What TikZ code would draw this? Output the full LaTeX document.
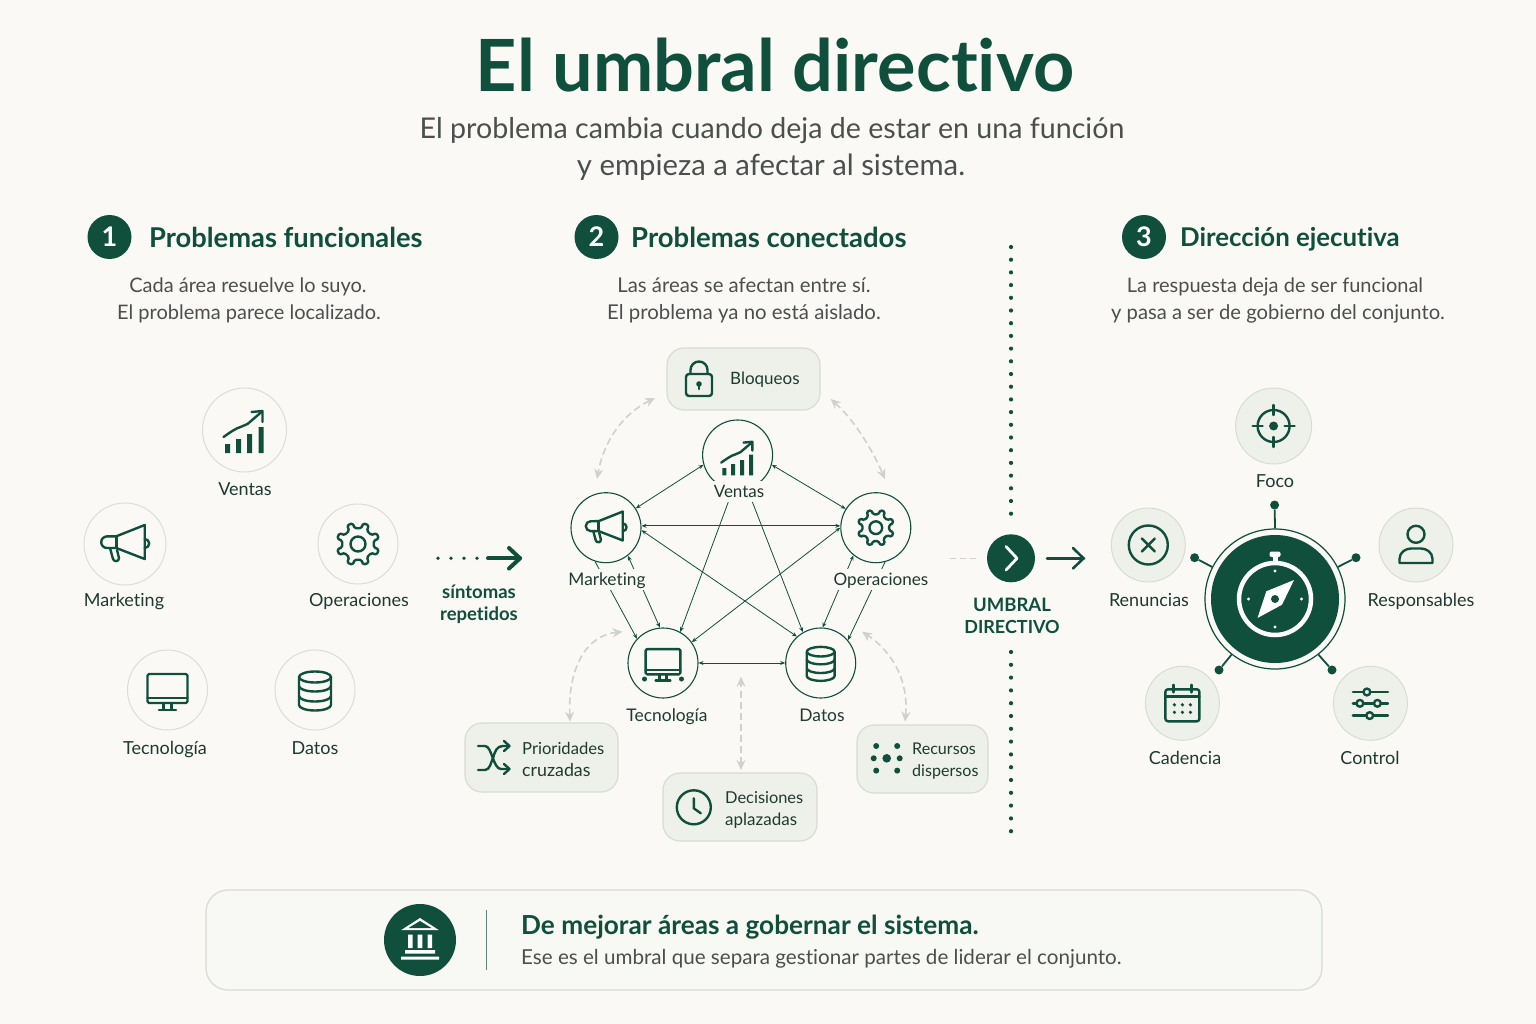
\documentclass[tikz,border=0pt]{standalone}
\usepackage{fontspec}
\setmainfont{Lato}[Ligatures=NoCommon]
\usetikzlibrary{arrows.meta}
\definecolor{gr}{HTML}{0F4F3C}
\definecolor{lab}{HTML}{1E3A31}
\definecolor{sub}{HTML}{4B504D}
\definecolor{bgc}{HTML}{FAF9F6}
\definecolor{cardf}{HTML}{EEF0EA}
\definecolor{cardb}{HTML}{D8DCD4}
\definecolor{ringc}{HTML}{DDDCD6}
\definecolor{dashc}{HTML}{CFD2CC}
\definecolor{botf}{HTML}{F8F8F4}
\newcommand{\fs}[1]{\fontsize{#1}{#1}\selectfont}
\tikzset{
 ico/.style={draw=gr,line width=2.4pt,line cap=round,line join=round},
 pics/ventas/.style={code={
  \fill[gr] (-19.5,14) rectangle (-14.5,23) (-8.5,9) rectangle (-3.5,23) (2.5,4) rectangle (7.5,23) (14,-3) rectangle (19,23);
  \draw[ico] (-21,7) .. controls (-14,2) and (-8,-2) .. (-4,-3) -- (3,-6) -- (17,-18);
  \draw[ico] (7,-18) -- (18,-19) -- (18,-8);}},
 pics/mega/.style={code={
  \draw[ico] (-8.7,-7.7) -- (19.7,-19) -- (19.7,15) -- (-8.7,4) -- (-18,4) arc[start angle=90,end angle=270,radius=5.8] -- cycle;
  \draw[ico] (-8.7,-7.7) -- (-8.7,4);
  \draw[ico] (-15,4) -- (-12,15) .. controls (-11,18) and (-6,18) .. (-6,14) -- (-8,6);
  \draw[ico] (19.7,-5) arc[start angle=-90,end angle=90,radius=4.5];}},
 pics/gear/.style={code={
  \draw[ico,rounded corners=1.4pt] (11:16)
   \foreach \a in {0,45,...,315}{ -- (\a+11:16) -- (\a+15:21.5) -- (\a+30:21.5) -- (\a+34:16)} -- cycle;
  \draw[ico] (0,0) circle (7.5);}},
 pics/monitor/.style={code={
  \draw[ico,rounded corners=1.5pt] (-20,-16) rectangle (20,13);
  \draw[ico] (-20,8) -- (20,8) (-4,13) -- (-4,19) (4,13) -- (4,19) (-8.5,20) -- (8.5,20);}},
 pics/datos/.style={code={
  \draw[ico] (-16,-13) arc[start angle=180,end angle=-180,x radius=16,y radius=5.5];
  \draw[ico] (-16,-13) -- (-16,15) arc[start angle=180,end angle=0,x radius=16,y radius=5.5] -- (16,-13);
  \draw[ico] (-16,-4) arc[start angle=180,end angle=0,x radius=16,y radius=5.5];
  \draw[ico] (-16,6) arc[start angle=180,end angle=0,x radius=16,y radius=5.5];}},
 pics/lock/.style={code={
  \draw[ico,rounded corners=3pt] (-13,-5) rectangle (13,17);
  \draw[ico] (-8.5,-5) -- (-8.5,-9) arc[start angle=180,end angle=360,radius=8.5] -- (8.5,-5);
  \fill[gr] (0,5) circle (2.8);
  \draw[ico] (0,5) -- (0,10);}},
 pics/shuffle/.style={code={
  \draw[ico] (-16,-12) -- (-9,-12) .. controls (-2,-12) and (-1,11) .. (7,11) -- (15,11);
  \draw[ico] (-16,12) -- (-9,12) .. controls (-4,12) and (-3,4) .. (-1,0) .. controls (1,-7) and (3,-12) .. (9,-12) -- (15,-12);
  \draw[ico] (10,-17) -- (15.5,-12) -- (10,-7) (10,6) -- (15.5,11) -- (10,16);}},
 pics/clock/.style={code={
  \draw[ico] (0,0) circle (17);
  \draw[ico] (0,-9) -- (0,1) -- (7,6);}},
 pics/dispersos/.style={code={
  \fill[gr] (0,0) circle (4.3);
  \foreach \p in {(-10.5,-12.3),(10.5,-12.3),(-13,0),(13,0),(-10.5,12.3),(10.5,12.3)}{\fill[gr] \p circle (3);}}},
 pics/target/.style={code={
  \draw[ico] (0,0) circle (16);
  \fill[gr] (0,0) circle (4.5);
  \draw[ico] (0,-21) -- (0,-11) (0,21) -- (0,11) (-21,0) -- (-11,0) (21,0) -- (11,0);}},
 pics/xcirc/.style={code={
  \draw[ico] (0,0) circle (19.5);
  \draw[ico] (-6.5,-6.5) -- (6.5,6.5) (6.5,-6.5) -- (-6.5,6.5);}},
 pics/person/.style={code={
  \draw[ico] (0,-10.7) circle (8.5);
  \draw[ico] (-16.5,18) -- (-16.5,14) .. controls (-16.5,7) and (-10,3.5) .. (-5,3.5) -- (5,3.5) .. controls (10,3.5) and (16.5,7) .. (16.5,14) -- (16.5,18) -- cycle;}},
 pics/calendar/.style={code={
  \draw[ico,rounded corners=2.5pt] (-17,-14) rectangle (17,18);
  \draw[ico] (-17,-7) -- (17,-7) (-9,-18.5) -- (-9,-11) (9,-18.5) -- (9,-11);
  \foreach \x in {-8,0,8}{\fill[gr] (\x,1.5) circle (1.8) (\x,9) circle (1.8);}}},
 pics/sliders/.style={code={
  \draw[ico] (-17.5,-11.3) -- (17.5,-11.3) (-17.5,0) -- (17.5,0) (-17.5,12.3) -- (17.5,12.3);
  \filldraw[ico,fill=cardf] (-3.5,-11.3) circle (3.4) (-10.5,0) circle (3.4) (7,0) circle (3.4) (-0.7,12.3) circle (3.4);}},
 pics/bank/.style={code={
  \fill[white] (-18.7,-10) -- (0,-22) -- (18.7,-10) -- cycle;
  \fill[gr] (-11.5,-12) -- (0,-19) -- (11.5,-12) -- cycle;
  \fill[white] (-12,-5.5) rectangle (-7.5,8) (-2.3,-5.5) rectangle (2.3,8) (7.5,-5.5) rectangle (12,8);
  \fill[white] (-15,10) rectangle (15,13.5) (-19,16.5) rectangle (19,19.5);}},
 pics/compass/.style={code={
  \draw[white,line width=4.5pt] (0,0) circle (36);
  \fill[white,rounded corners=2pt] (-5.5,-47.5) rectangle (5.5,-42);
  \fill[white] (-2.5,-43) rectangle (2.5,-36);
  \foreach \p in {(0,-28),(-26.5,0),(26.5,0),(0,28)}{\fill[white] \p circle (1.6);}
  \fill[white] (19,-19) -- (7,5.7) -- (-17.5,19) -- (-8.7,-7.7) -- cycle;
  \fill[gr] (0,0) circle (4);}},
 big/.style={circle,minimum size=#1,inner sep=0pt},
 lcirc/.style={big=#1,draw=ringc,line width=1pt,fill=bgc},
 mcirc/.style={big=70pt,draw=gr,line width=1.1pt,fill=bgc},
 rcirc/.style={big=#1,draw=cardb,line width=1pt,fill=cardf},
 lbl/.style={text=lab,font=\fs{18},text height=13pt,text depth=0pt,inner sep=0pt},
 mlbl/.style={lbl,font=\fs{17.3},fill=bgc,inner xsep=1pt,inner ysep=4pt},
 desc/.style={text=sub,font=\fs{20},text height=14.5pt,text depth=0pt,inner sep=0pt},
 head/.style={text=gr,font=\bfseries\fs{27.3},anchor=west,text height=19.6pt,text depth=0pt,inner sep=0pt},
 num/.style={big=44pt,fill=gr,text=white,font=\bfseries\fs{27}},
 symp/.style={text=gr,font=\bfseries\fs{18.5},text height=13.3pt,text depth=0pt,inner sep=0pt},
 card/.style={draw=cardb,line width=1.2pt,fill=cardf,rounded corners=17pt,inner sep=0pt},
 cardt/.style={text=lab,font=\fs{16.6},anchor=west,text height=12pt,text depth=0pt,inner sep=0pt},
 link/.style={draw=gr,line width=.8pt,{Stealth[length=5pt,width=4pt]}-{Stealth[length=5pt,width=4pt]}},
 linkb/.style={draw=gr,line width=.8pt,-{Stealth[length=5pt,width=4pt]}},
 gdash/.style={draw=dashc,line width=1.6pt,dash pattern=on 7pt off 4pt,{Stealth[length=10pt,width=9pt]}-{Stealth[length=10pt,width=9pt]}},
 spoke/.style={draw=gr,line width=1.8pt},
 sdot/.style={fill=gr,circle,inner sep=0pt,minimum size=9pt},
}
\begin{document}
\begin{tikzpicture}[x=1pt,y=-1pt]
\useasboundingbox (0,0) rectangle (1536,1024);
\fill[bgc] (0,0) rectangle (1536,1024);
% title
\node[text=gr,font=\bfseries\fs{72},text height=51pt,text depth=0pt,inner sep=0pt] (title) at (775,66) {El umbral directivo};
\node[text=sub,font=\fs{28.6},text height=20.5pt,text depth=0pt,inner sep=0pt] (sub1) at (772,128) {El problema cambia cuando deja de estar en una función};
\node[text=sub,font=\fs{29.3},text height=20.5pt,text depth=0pt,inner sep=0pt] (sub2) at (771,165) {y empieza a afectar al sistema.};
% headers
\node[num] (n1) at (109.5,237) {1};
\node[head] (h1) at (149,238) {Problemas funcionales};
\node[desc] (d1a) at (248,285) {Cada área resuelve lo suyo.};
\node[desc] (d1b) at (249,312) {El problema parece localizado.};
\node[num] (n2) at (596.5,237) {2};
\node[head,font=\bfseries\fs{27.5}] (h2) at (631,238) {Problemas conectados};
\node[desc,font=\fs{20.35}] (d2a) at (744,285) {Las áreas se afectan entre sí.};
\node[desc,font=\fs{20.4}] (d2b) at (744,312) {El problema ya no está aislado.};
\node[num] (n3) at (1144,237) {3};
\node[head,font=\bfseries\fs{25.8}] (h3) at (1180,237) {Dirección ejecutiva};
\node[desc] (d3a) at (1275,285) {La respuesta deja de ser funcional};
\node[desc,font=\fs{20.2}] (d3b) at (1278,312) {y pasa a ser de gobierno del conjunto.};
% left group
\node[lcirc=84pt] (lv) at (244.5,430) {}; \pic at (lv) {ventas};
\node[lbl] (lvt) at (245,489) {Ventas};
\node[lcirc=82pt] (lm) at (125,544) {}; \pic at (lm) {mega};
\node[lbl] (lmt) at (124,600) {Marketing};
\node[lcirc=80pt] (lo) at (358,544) {}; \pic at (lo) {gear};
\node[lbl] (lot) at (359,600) {Operaciones};
\node[lcirc=80pt] (lt) at (167.5,690) {}; \pic at (lt) {monitor};
\node[lbl] (ltt) at (165,748) {Tecnología};
\node[lcirc=80pt] (ld) at (315,690) {}; \pic at (ld) {datos};
\node[lbl] (ldt) at (315,748) {Datos};
% symptoms arrow
\foreach \x in {438,451,464,477}{\fill[gr] (\x,558.3) circle (1.9);}
\coordinate (sa) at (488,558.3); \coordinate (sb) at (520,558.3);
\draw[gr,line width=4pt,line cap=round] (sa) -- (sb);
\draw[gr,line width=4pt,line cap=round,line join=round] (509,548) -- (520,558.3) -- (509,568.5);
\node[symp] (sy1) at (479,592) {síntomas};
\node[symp] (sy2) at (479,614) {repetidos};
% middle group
\node[mcirc] (mv) at (737.6,455) {}; \pic[scale=.8] at (738,457) {ventas};
\node[mcirc] (mm) at (606,527.7) {}; \pic[scale=.85] at (mm) {mega};
\node[mcirc] (mo) at (875.8,527.7) {}; \pic[scale=.85] at (mo) {gear};
\node[mcirc] (mt) at (663,663) {}; \pic[scale=.87] at (mt) {monitor};
\fill[gr] (644.5,679) circle (2.5) (681.5,679) circle (2.5);
\node[mcirc] (md) at (820.7,663) {}; \pic[scale=.87] at (md) {datos};
% connectors
\draw[link] (mv.196) -- (mm.33);
\draw[link] (mv.-16) -- (mo.148);
\draw[link] (mm.3) -- (mo.177);
\draw[link] (mm.-4) -- (md.132);
\draw[link] (mo.180) -- (mt.36);
\draw[linkb] (mv.262) -- (mt.61);
\draw[linkb] (mv.286) -- (md.120);
\draw[link] (mm.-52) -- (mt.95);
\draw[linkb] (mm.-108) -- (mt.137);
\draw[link] (mo.231) -- (md.87);
\draw[linkb] (mo.-75) -- (md.40);
\draw[link] (mt.east) -- (md.west);
% mid labels
\node[mlbl,font=\fs{17}] (mvt) at (739,491) {Ventas};
\node[mlbl] (mmt) at (607,579) {Marketing};
\node[mlbl,font=\fs{17.1}] (mot) at (881,579) {Operaciones};
\node[lbl,font=\fs{17.4}] (mtt) at (667,715) {Tecnología};
\node[lbl,font=\fs{17.4}] (mdt) at (822,715) {Datos};
% cards
\node[card,minimum width=153pt,minimum height=62pt] (cb) at (743.5,379) {};
\pic at (699,379) {lock};
\node[cardt,font=\fs{17}] (cbt) at (730,378) {Bloqueos};
\node[card,minimum width=153pt,minimum height=69pt] (cp) at (541.5,757.5) {};
\pic at (494,758) {shuffle};
\node[cardt] (cpt) at (522,748) {Prioridades};
\node[cardt,font=\fs{17.8}] (cpu) at (522,770) {cruzadas};
\node[card,minimum width=154pt,minimum height=68pt] (cd) at (740,807) {};
\pic at (693.8,807.3) {clock};
\node[cardt,font=\fs{16.4}] (cdt) at (725,797) {Decisiones};
\node[cardt,font=\fs{17}] (cdu) at (725,819) {aplazadas};
\node[card,minimum width=131pt,minimum height=68pt] (cr) at (922.5,759) {};
\pic at (886.7,758.3) {dispersos};
\node[cardt,font=\fs{16.1}] (crt) at (912,748) {Recursos};
\node[cardt,font=\fs{16.1}] (cru) at (912,770) {dispersos};
% dashed gray links
\coordinate (b1) at (655,398); \coordinate (m1) at (597,479);
\coordinate (b2) at (830.6,399); \coordinate (o1) at (885,479);
\coordinate (p1) at (570,721.7); \coordinate (t1) at (622.6,631.7);
\coordinate (c1) at (741,770); \coordinate (c2) at (741,676.7);
\coordinate (r1) at (905,721.7); \coordinate (d1) at (862,631.7);
\draw[gdash] (b1) .. controls (623.1,413.7) and (603.8,440.7) .. (m1);
\draw[gdash] (b2) .. controls (851.7,417.7) and (869.8,444.3) .. (o1);
\draw[gdash] (p1) .. controls (567.8,669.4) and (585.3,635.6) .. (t1);
\draw[gdash] (c1) -- (c2);
\draw[gdash] (r1) .. controls (908.7,682.8) and (894.3,652.8) .. (d1);
% threshold
\foreach \y in {247,259.7,...,522}{\fill[gr] (1011,\y) circle (2.1);}
\foreach \y in {652,664.8,...,832}{\fill[gr] (1011,\y) circle (2.1);}
\node[big=48pt,fill=gr] (th) at (1011,558.3) {};
\draw[white,line width=2.8pt,line cap=round,line join=round] (1006,546.5) -- (1017,558.3) -- (1006,570);
\coordinate (tl) at (949.5,558.3); \coordinate (tla) at (977,558.3);
\draw[dashc,line width=1.6pt,dash pattern=on 6pt off 4pt] (tl) -- (tla);
\coordinate (tr) at (1047,558.3); \coordinate (trb) at (1084,558.3);
\draw[gr,line width=2.6pt,line cap=round] (tr) -- (trb);
\draw[gr,line width=2.6pt,line cap=round,line join=round] (1073,548) -- (1083.5,558.3) -- (1073,568.5);
\node[symp] (u1) at (1012,605) {UMBRAL};
\node[symp,font=\bfseries\fs{18}] (u2) at (1012,627) {DIRECTIVO};
% right group
\node[big=140pt,draw=gr,line width=1.2pt,fill=bgc] (core) at (1275,599) {};
\node[big=128pt,fill=gr] (corein) at (core) {};
\pic at (core) {compass};
\node[rcirc=76pt] (rf) at (1273.6,426) {}; \pic at (rf) {target};
\node[lbl] (rft) at (1275,481) {Foco};
\node[rcirc=74pt] (rr) at (1148.3,545) {}; \pic at (rr) {xcirc};
\node[lbl] (rrt) at (1149,600) {Renuncias};
\node[rcirc=74pt] (rp) at (1416,545) {}; \pic at (rp) {person};
\node[lbl] (rpt) at (1421,600) {Responsables};
\node[rcirc=74pt] (rc) at (1182.4,703.3) {}; \pic at (rc) {calendar};
\node[lbl] (rct) at (1185,758) {Cadencia};
\node[rcirc=74pt] (rk) at (1370.4,703.3) {}; \pic at (rk) {sliders};
\node[lbl] (rkt) at (1370,758) {Control};
\node[sdot] (s1) at (1274.6,505) {};
\node[sdot] (s2) at (1194.6,557.7) {};
\node[sdot] (s3) at (1356,557.7) {};
\node[sdot] (s4) at (1219,670) {};
\node[sdot] (s5) at (1332,670) {};
\draw[spoke] (s1) -- (core.90);
\draw[spoke] (s2) -- (core.153);
\draw[spoke] (s3) -- (core.27);
\draw[spoke] (s4) -- (core.232);
\draw[spoke] (s5) -- (core.-52);
% bottom card
\node[draw=cardb,line width=1.3pt,fill=botf,rounded corners=22pt,minimum width=1116pt,minimum height=100pt,inner sep=0pt] (bot) at (764,940) {};
\node[big=72pt,fill=gr] (bk) at (420,940) {};
\pic at (bk) {bank};
\draw[draw=gr!60!cardb,line width=1pt] (486.5,910) -- (486.5,970);
\node[text=gr,font=\bfseries\fs{26.2},anchor=west,text height=18.8pt,text depth=0pt,inner sep=0pt] (bt) at (521,925) {De mejorar áreas a gobernar el sistema.};
\node[text=sub,font=\fs{20.6},anchor=west,text height=14.7pt,text depth=0pt,inner sep=0pt] (bu) at (521,957) {Ese es el umbral que separa gestionar partes de liderar el conjunto.};
\end{tikzpicture}
\end{document}
